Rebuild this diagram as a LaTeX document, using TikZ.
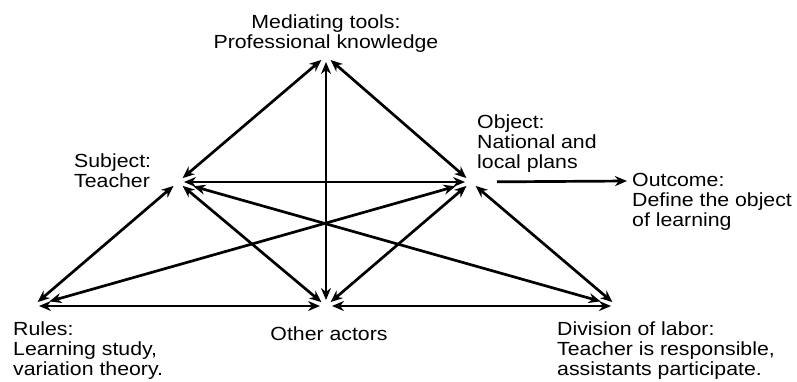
\documentclass[tikz,border=0pt]{standalone}
\usepackage{fontspec}
\setmainfont[FakeStretch=1.12]{Liberation Sans}
\usepackage{tikz}
\usetikzlibrary{arrows.meta}

\tikzset{
	>={Stealth[length=12pt,width=10pt]},
	lbl/.style={inner sep=0pt, align=left, font=\fontsize{19}{20}\selectfont},
	link/.style={<->, line width=2.7pt, shorten <=6pt, shorten >=6pt},
	far/.style={shorten <=16pt, shorten >=17pt}
}

\begin{document}
\begin{tikzpicture}[x=1pt, y=-1pt]
	\useasboundingbox (0,0) rectangle (797,381);

	\coordinate (tools)    at (326, 56);
	\coordinate (subject)  at (178, 182);
	\coordinate (object)   at (471, 182);
	\coordinate (rules)    at (33, 306);
	\coordinate (actors)   at (326, 306);
	\coordinate (division) at (617, 306);
	\coordinate (outcome)  at (627, 181);

	% labels, anchored at the baseline of their last line
	\node[lbl, anchor=base, align=center] (toolstext) at (326, 48) {Mediating tools:\\Professional knowledge};
	\node[lbl, anchor=base west] (subjecttext)  at (74, 187)  {Subject:\\Teacher};
	\node[lbl, anchor=base west] (objecttext)   at (477, 168) {Object:\\National and\\local plans};
	\node[lbl, anchor=base west] (outcometext)  at (632, 226) {Outcome:\\Define the object\\of learning};
	\node[lbl, anchor=base west] (rulestext)    at (13, 375)  {Rules:\\Learning study,\\variation theory.};
	\node[lbl, anchor=base] (actorstext)        at (329, 340) {Other actors};
	\node[lbl, anchor=base west] (divisiontext) at (557, 375) {Division of labor:\\Teacher is responsible,\\assistants participate.};

	\path[link] (tools) edge (subject);
	\path[link] (tools) edge (object);
	\path[link] (tools) edge (actors);
	\path[link] (subject) edge (object);
	\path[link] (subject) edge (rules);
	\path[link] (subject) edge (actors);
	\path[link] (subject) edge[far] (division);
	\path[link] (object) edge[far] (rules);
	\path[link] (object) edge (actors);
	\path[link] (object) edge (division);
	\path[link] (rules) edge (actors);
	\path[link] (actors) edge (division);
	\path[->, line width=2.7pt, shorten <=26pt] (object) edge (outcome);

\end{tikzpicture}
\end{document}
